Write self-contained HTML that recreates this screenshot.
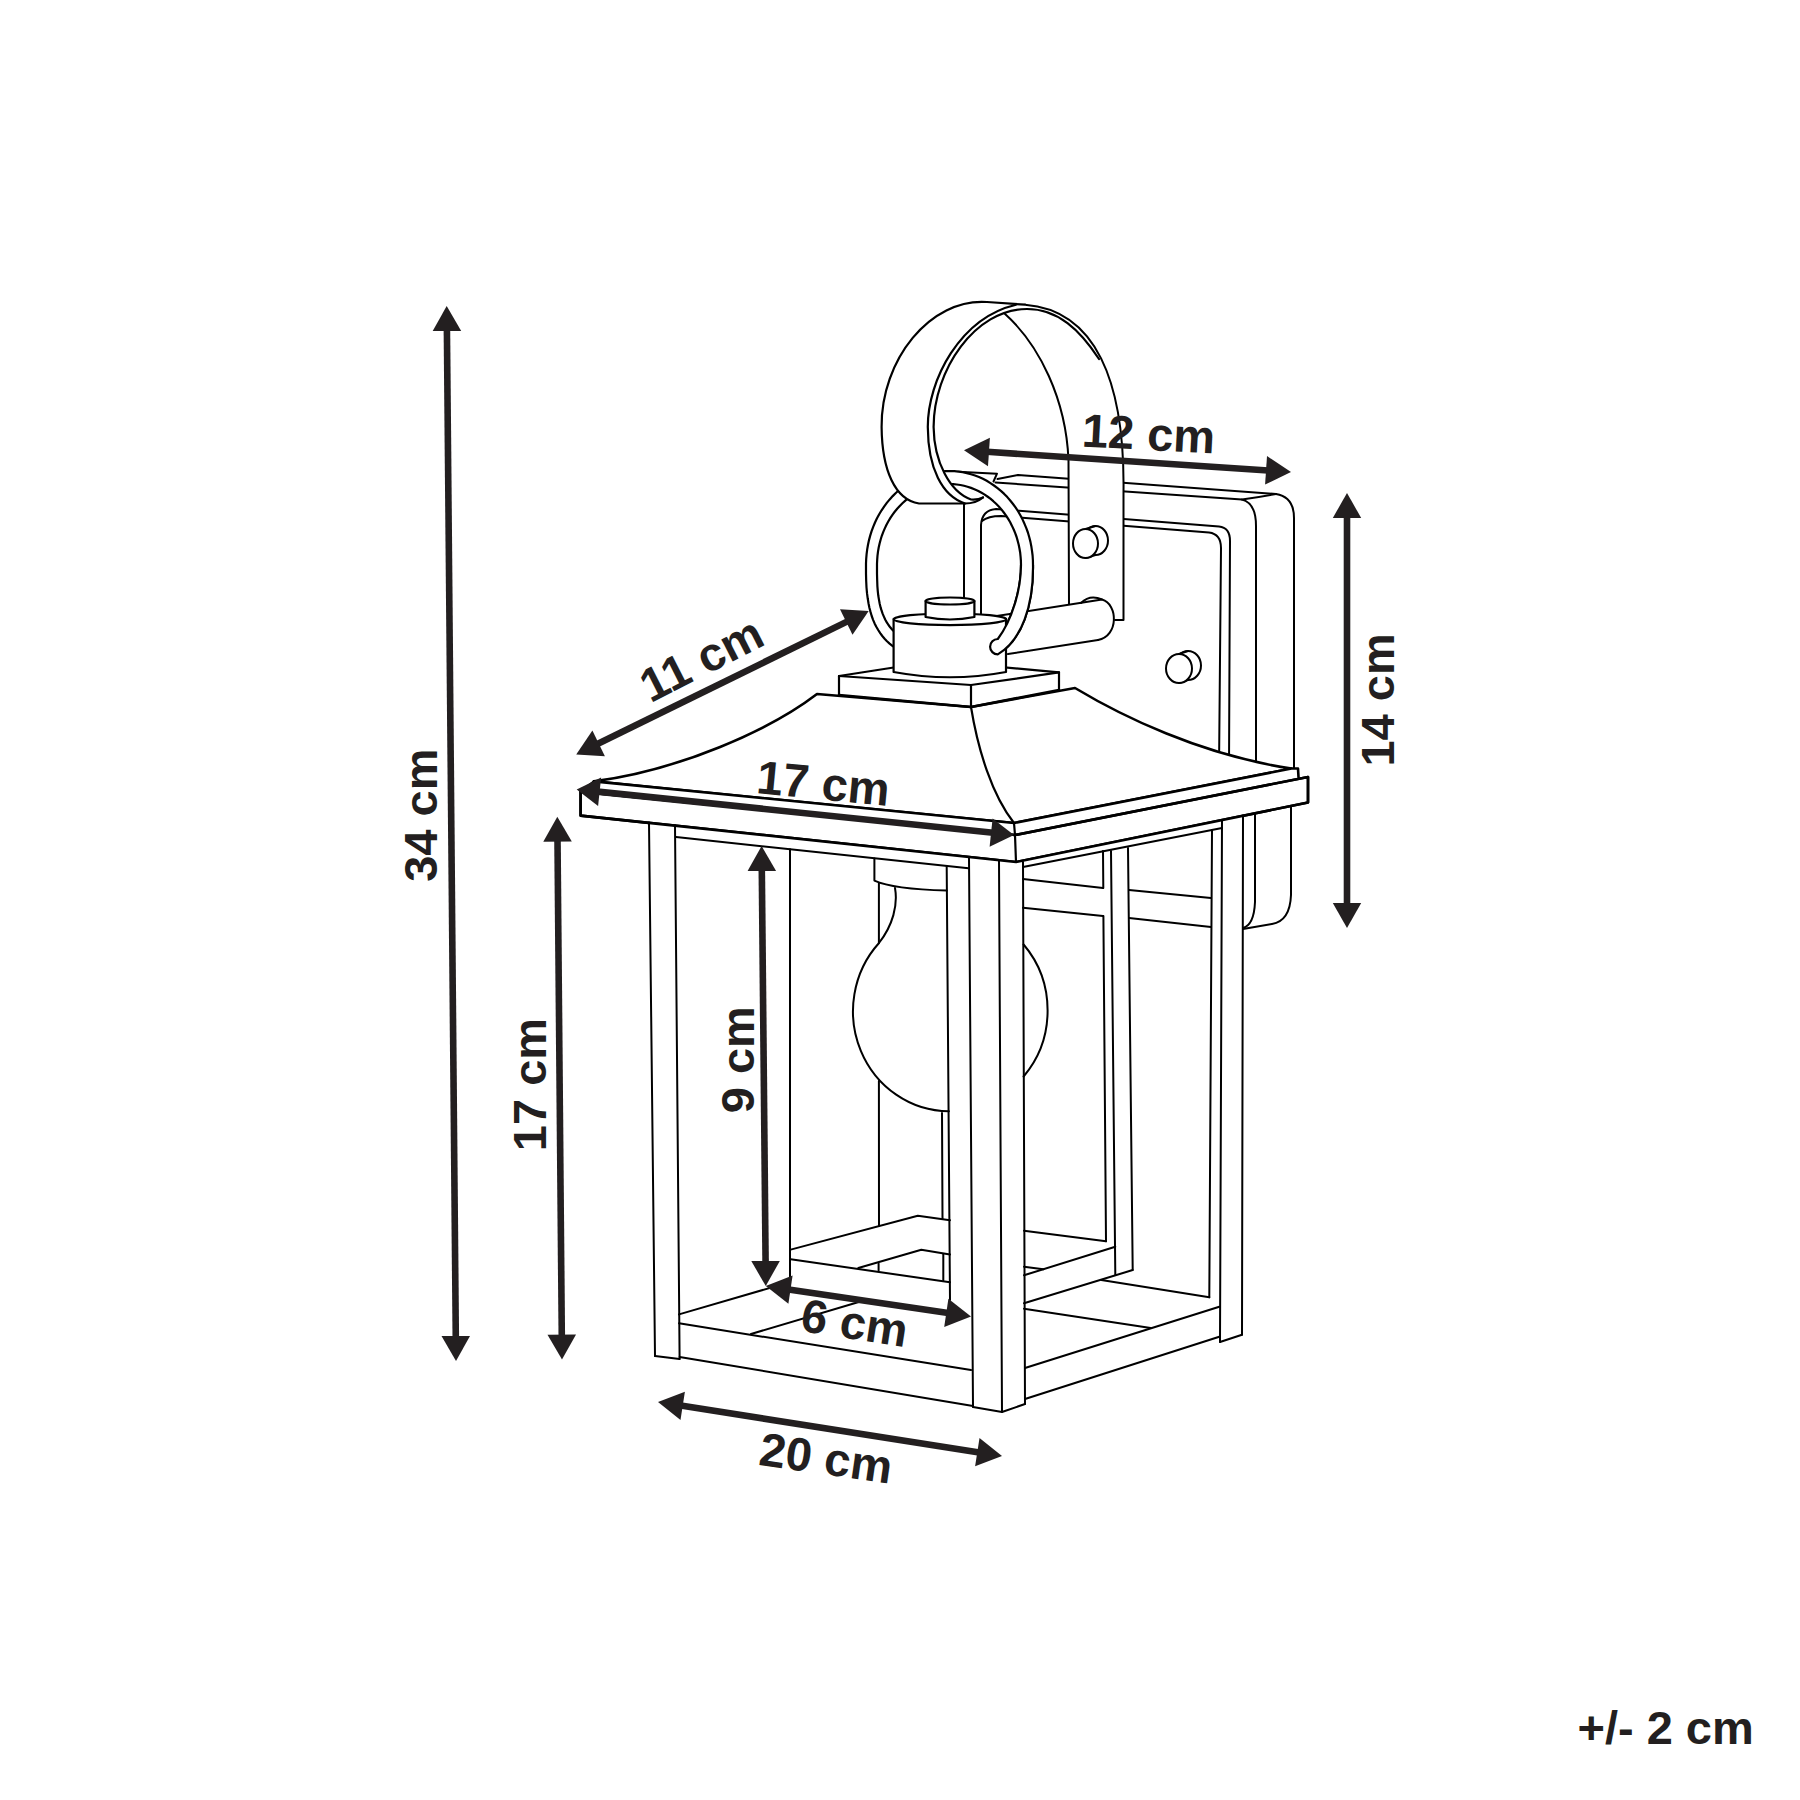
<!DOCTYPE html>
<html><head><meta charset="utf-8"><style>
html,body{margin:0;padding:0;background:#fff;}
svg{display:block;}
text{font-family:"Liberation Sans",sans-serif;font-weight:bold;fill:#231f20;}
</style></head><body>
<svg width="1800" height="1800" viewBox="0 0 1800 1800">
<rect width="1800" height="1800" fill="#fff"/>
<path d="M 958,471.8 L 997,473.7 L 993.5,481.5" fill="none" stroke="#000" stroke-width="2.0" stroke-linejoin="round" stroke-linecap="round"/>
<path d="M 997.5,479 L 1018,475 L 1276,494 Q 1294,497 1294,518 L 1294,770" fill="none" stroke="#000" stroke-width="2.0" stroke-linejoin="round" stroke-linecap="round"/>
<path d="M 995.5,482.5 L 1242,499.6 Q 1256,503 1256,526 L 1256,770" fill="none" stroke="#000" stroke-width="2.0" stroke-linejoin="round" stroke-linecap="round"/>
<path d="M 1242,499.6 Q 1260,497 1276,494" fill="none" stroke="#000" stroke-width="2.0" stroke-linejoin="round" stroke-linecap="round"/>
<path d="M 981,617 L 981,525 Q 982,510 996,509 L 1219,526.5 Q 1230,527.5 1230,541 L 1229,770" fill="none" stroke="#000" stroke-width="2.0" stroke-linejoin="round" stroke-linecap="round"/>
<path d="M 982,521 Q 988,516 1001,516 L 1209,532.5 Q 1221,534 1221,548 L 1219,770" fill="none" stroke="#000" stroke-width="2.0" stroke-linejoin="round" stroke-linecap="round"/>
<path d="M 964,503 L 964,614" fill="none" stroke="#000" stroke-width="2.0" stroke-linejoin="round" stroke-linecap="round"/>
<path d="M 1291,806 L 1291,895 Q 1290,921 1272,924 L 1243,929" fill="none" stroke="#000" stroke-width="2.0" stroke-linejoin="round" stroke-linecap="round"/>
<path d="M 1255,813 L 1255,902 Q 1254,925 1243,928" fill="none" stroke="#000" stroke-width="2.0" stroke-linejoin="round" stroke-linecap="round"/>
<ellipse cx="1188" cy="665.5" rx="13" ry="14.5" fill="#fff" stroke="#000" stroke-width="2"/>
<path d="M 1179,654 L 1188,651" fill="none" stroke="#000" stroke-width="2" stroke-linejoin="round" stroke-linecap="round"/>
<path d="M 1179,683 L 1188,680" fill="none" stroke="#000" stroke-width="2" stroke-linejoin="round" stroke-linecap="round"/>
<ellipse cx="1179" cy="668.5" rx="13" ry="14.5" fill="#fff" stroke="#000" stroke-width="2"/>
<path d="M 1004,313 C 1040,345 1066,400 1068.5,460 L 1069,620 L 1123.5,620 L 1123.5,492 C 1125,380 1095,310 1025,304.7 Z" fill="#fff" stroke="#000" stroke-width="0" stroke-linejoin="round" stroke-linecap="round"/>
<path d="M 1004,313 C 1040,345 1066,400 1068.5,460 L 1069,604" fill="none" stroke="#000" stroke-width="2.0" stroke-linejoin="round" stroke-linecap="round"/>
<path d="M 1025,304.7 C 1095,310 1125,380 1123.5,492 L 1123.5,620 L 1115,620" fill="none" stroke="#000" stroke-width="2.0" stroke-linejoin="round" stroke-linecap="round"/>
<ellipse cx="1095.5" cy="540.5" rx="12.5" ry="14.5" fill="#fff" stroke="#000" stroke-width="2"/>
<path d="M 1085.5,529 L 1095.5,526" fill="none" stroke="#000" stroke-width="2" stroke-linejoin="round" stroke-linecap="round"/>
<path d="M 1085.5,558 L 1095.5,555" fill="none" stroke="#000" stroke-width="2" stroke-linejoin="round" stroke-linecap="round"/>
<ellipse cx="1085.5" cy="543.5" rx="12.5" ry="14.5" fill="#fff" stroke="#000" stroke-width="2"/>
<path d="M 1000,616 L 1028,611 L 1102,599.5 C 1118,604 1119,636 1098,640 L 1008,654 Z" fill="#fff" stroke="#000" stroke-width="0" stroke-linejoin="round" stroke-linecap="round"/>
<path d="M 985,617.8 L 1102,599.5" fill="none" stroke="#000" stroke-width="2.0" stroke-linejoin="round" stroke-linecap="round"/>
<path d="M 1008,654 L 1098,640" fill="none" stroke="#000" stroke-width="2.0" stroke-linejoin="round" stroke-linecap="round"/>
<path d="M 1081,603 Q 1090,594 1102,599.5 C 1118,604 1119,636 1098,640" fill="none" stroke="#000" stroke-width="2.0" stroke-linejoin="round" stroke-linecap="round"/>
<path d="M 925.6,658.0 L 920.9,657.3 L 916.6,656.5 L 912.5,655.4 L 908.7,654.3 L 905.0,652.9 L 901.6,651.4 L 898.4,649.7 L 895.3,647.8 L 892.4,645.8 L 889.6,643.6 L 887.0,641.2 L 884.6,638.7 L 882.3,636.0 L 880.2,633.1 L 878.2,630.0 L 876.3,626.8 L 874.6,623.4 L 873.1,619.8 L 871.7,616.0 L 870.5,611.9 L 869.4,607.7 L 868.5,603.2 L 867.7,598.3 L 867.0,593.2 L 866.5,587.5 L 866.2,581.2 L 866.0,573.6 L 866.0,563.5 L 866.2,558.8 L 866.6,554.1 L 867.2,549.4 L 868.0,544.7 L 869.0,540.1 L 870.2,535.6 L 871.6,531.1 L 873.2,526.8 L 875.0,522.5 L 877.0,518.3 L 879.2,514.3 L 881.6,510.3 L 884.1,506.6 L 886.8,502.9 L 889.7,499.4 L 892.7,496.1 L 895.8,493.0 L 899.1,490.0 L 902.5,487.3 L 906.1,484.7 L 909.7,482.3 L 913.5,480.2 L 917.3,478.3 L 921.2,476.5 L 925.2,475.1 L 929.3,473.8 L 933.4,472.8 L 937.6,472.0 L 941.7,471.4 L 945.9,471.1 L 950.1,471.0 L 954.4,471.2 L 958.6,471.6 L 962.7,472.2 L 966.9,473.1 L 971.0,474.2 L 975.0,475.5 L 979.0,477.0 L 982.9,478.8 L 986.7,480.8 L 990.4,483.1 L 994.0,485.5 L 997.5,488.1 L 1000.9,490.9 L 1004.2,493.9 L 1007.3,497.1 L 1010.2,500.5 L 1013.0,504.0 L 1015.7,507.7 L 1018.2,511.5 L 1020.5,515.5 L 1022.6,519.6 L 1024.5,523.8 L 1026.3,528.1 L 1027.9,532.5 L 1029.2,537.0 L 1030.4,541.6 L 1031.3,546.2 L 1032.0,550.8 L 1032.6,555.5 L 1032.9,560.3 L 1033.0,565.0 C 1033.5,605 1022,640 997.8,654.4 A 7.7,7.7 0 0,1 997.8,639 C 1012,620 1021,590 1021,565 L 1021.0,565.0 L 1020.9,560.9 L 1020.6,556.8 L 1020.2,552.8 L 1019.5,548.8 L 1018.7,544.8 L 1017.7,540.9 L 1016.6,537.0 L 1015.2,533.2 L 1013.7,529.5 L 1012.0,525.9 L 1010.2,522.3 L 1008.2,518.9 L 1006.1,515.6 L 1003.8,512.5 L 1001.4,509.4 L 998.8,506.5 L 996.1,503.8 L 993.3,501.2 L 990.4,498.7 L 987.4,496.5 L 984.3,494.4 L 981.1,492.5 L 977.8,490.7 L 974.4,489.2 L 971.0,487.9 L 967.5,486.7 L 964.0,485.8 L 960.4,485.0 L 956.8,484.5 L 953.2,484.1 L 949.6,484.0 L 945.9,484.1 L 942.3,484.4 L 938.7,484.8 L 935.1,485.5 L 931.6,486.4 L 928.1,487.5 L 924.6,488.8 L 921.3,490.3 L 917.9,491.9 L 914.7,493.8 L 911.6,495.8 L 908.5,498.0 L 905.6,500.4 L 902.7,503.0 L 900.0,505.7 L 897.4,508.5 L 894.9,511.5 L 892.6,514.6 L 890.4,517.9 L 888.4,521.3 L 886.5,524.8 L 884.8,528.4 L 883.2,532.1 L 881.8,535.8 L 880.6,539.7 L 879.6,543.6 L 878.7,547.5 L 878.0,551.6 L 877.5,555.6 L 877.2,559.7 L 877.0,563.7 L 877.0,573.7 L 877.2,580.7 L 877.4,586.4 L 877.8,591.3 L 878.3,595.8 L 879.0,599.9 L 879.7,603.8 L 880.6,607.4 L 881.6,610.7 L 882.7,613.9 L 884.0,616.9 L 885.3,619.8 L 886.8,622.4 L 888.5,625.0 L 890.2,627.3 L 892.1,629.5 L 894.1,631.6 L 896.2,633.5 L 898.5,635.3 L 900.9,637.0 L 903.4,638.5 L 906.1,639.9 L 909.0,641.1 L 912.1,642.2 L 915.3,643.1 L 918.8,644.0 L 922.5,644.6 L 926.6,645.2 Z" fill="#fff" stroke="#000" stroke-width="0" stroke-linejoin="round" stroke-linecap="round"/>
<path d="M 925.6,658.0 L 920.9,657.3 L 916.6,656.5 L 912.5,655.4 L 908.7,654.3 L 905.0,652.9 L 901.6,651.4 L 898.4,649.7 L 895.3,647.8 L 892.4,645.8 L 889.6,643.6 L 887.0,641.2 L 884.6,638.7 L 882.3,636.0 L 880.2,633.1 L 878.2,630.0 L 876.3,626.8 L 874.6,623.4 L 873.1,619.8 L 871.7,616.0 L 870.5,611.9 L 869.4,607.7 L 868.5,603.2 L 867.7,598.3 L 867.0,593.2 L 866.5,587.5 L 866.2,581.2 L 866.0,573.6 L 866.0,563.5 L 866.2,558.8 L 866.6,554.1 L 867.2,549.4 L 868.0,544.7 L 869.0,540.1 L 870.2,535.6 L 871.6,531.1 L 873.2,526.8 L 875.0,522.5 L 877.0,518.3 L 879.2,514.3 L 881.6,510.3 L 884.1,506.6 L 886.8,502.9 L 889.7,499.4 L 892.7,496.1 L 895.8,493.0 L 899.1,490.0 L 902.5,487.3 L 906.1,484.7 L 909.7,482.3 L 913.5,480.2 L 917.3,478.3 L 921.2,476.5 L 925.2,475.1 L 929.3,473.8 L 933.4,472.8 L 937.6,472.0 L 941.7,471.4 L 945.9,471.1 L 950.1,471.0 L 954.4,471.2 L 958.6,471.6 L 962.7,472.2 L 966.9,473.1 L 971.0,474.2 L 975.0,475.5 L 979.0,477.0 L 982.9,478.8 L 986.7,480.8 L 990.4,483.1 L 994.0,485.5 L 997.5,488.1 L 1000.9,490.9 L 1004.2,493.9 L 1007.3,497.1 L 1010.2,500.5 L 1013.0,504.0 L 1015.7,507.7 L 1018.2,511.5 L 1020.5,515.5 L 1022.6,519.6 L 1024.5,523.8 L 1026.3,528.1 L 1027.9,532.5 L 1029.2,537.0 L 1030.4,541.6 L 1031.3,546.2 L 1032.0,550.8 L 1032.6,555.5 L 1032.9,560.3 L 1033.0,565.0 C 1033.5,605 1022,640 997.8,654.4" fill="none" stroke="#000" stroke-width="2.2" stroke-linejoin="round" stroke-linecap="round"/>
<path d="M 926.6,645.2 L 922.5,644.6 L 918.8,644.0 L 915.3,643.1 L 912.1,642.2 L 909.0,641.1 L 906.1,639.9 L 903.4,638.5 L 900.9,637.0 L 898.5,635.3 L 896.2,633.5 L 894.1,631.6 L 892.1,629.5 L 890.2,627.3 L 888.5,625.0 L 886.8,622.4 L 885.3,619.8 L 884.0,616.9 L 882.7,613.9 L 881.6,610.7 L 880.6,607.4 L 879.7,603.8 L 879.0,599.9 L 878.3,595.8 L 877.8,591.3 L 877.4,586.4 L 877.2,580.7 L 877.0,573.7 L 877.0,563.7 L 877.2,559.7 L 877.5,555.6 L 878.0,551.6 L 878.7,547.5 L 879.6,543.6 L 880.6,539.7 L 881.8,535.8 L 883.2,532.1 L 884.8,528.4 L 886.5,524.8 L 888.4,521.3 L 890.4,517.9 L 892.6,514.6 L 894.9,511.5 L 897.4,508.5 L 900.0,505.7 L 902.7,503.0 L 905.6,500.4 L 908.5,498.0 L 911.6,495.8 L 914.7,493.8 L 917.9,491.9 L 921.3,490.3 L 924.6,488.8 L 928.1,487.5 L 931.6,486.4 L 935.1,485.5 L 938.7,484.8 L 942.3,484.4 L 945.9,484.1 L 949.6,484.0 L 953.2,484.1 L 956.8,484.5 L 960.4,485.0 L 964.0,485.8 L 967.5,486.7 L 971.0,487.9 L 974.4,489.2 L 977.8,490.7 L 981.1,492.5 L 984.3,494.4 L 987.4,496.5 L 990.4,498.7 L 993.3,501.2 L 996.1,503.8 L 998.8,506.5 L 1001.4,509.4 L 1003.8,512.5 L 1006.1,515.6 L 1008.2,518.9 L 1010.2,522.3 L 1012.0,525.9 L 1013.7,529.5 L 1015.2,533.2 L 1016.6,537.0 L 1017.7,540.9 L 1018.7,544.8 L 1019.5,548.8 L 1020.2,552.8 L 1020.6,556.8 L 1020.9,560.9 L 1021.0,565.0 C 1021,590 1012,620 997.8,639" fill="none" stroke="#000" stroke-width="2.2" stroke-linejoin="round" stroke-linecap="round"/>
<path d="M 987,302 C 930,298 881,360 881.6,427 C 882,470 895,500 919,503.5 L 965,503.5 C 973,503.5 980,500 983,497.5 Q 978,500 971,499.5 C 950,492 934,462 933.6,427 C 933.6,370 975,309 1027,309 L 1025,304.7 Z" fill="#fff" stroke="#000" stroke-width="0" stroke-linejoin="round" stroke-linecap="round"/>
<path d="M 987,302 C 930,298 881,360 881.6,427 C 882,470 895,500 919,503.5 L 965,503.5 C 973,503.5 980,500 983,497.5" fill="none" stroke="#000" stroke-width="2.2" stroke-linejoin="round" stroke-linecap="round"/>
<path d="M 987,302 L 1025,304.7" fill="none" stroke="#000" stroke-width="2.2" stroke-linejoin="round" stroke-linecap="round"/>
<path d="M 1016,304.7 C 960,318 927.8,380 927.8,427 C 928,468 942,496 965,503.5" fill="none" stroke="#000" stroke-width="2.2" stroke-linejoin="round" stroke-linecap="round"/>
<path d="M 1099,359 C 1080,330 1058,309 1027,309 C 975,309 933.6,370 933.6,427 C 934,462 950,492 971,499.5 Q 978,500 983,497.5" fill="none" stroke="#000" stroke-width="2.2" stroke-linejoin="round" stroke-linecap="round"/>
<path d="M 839,676 L 935.5,661 L 1059,672.4 L 1059,690 L 971,707 L 839,695 Z" fill="#fff" stroke="#000" stroke-width="0" stroke-linejoin="round" stroke-linecap="round"/>
<path d="M 839,676 L 935.5,661 L 1059,672.4" fill="none" stroke="#000" stroke-width="2.2" stroke-linejoin="round" stroke-linecap="round"/>
<path d="M 839,676 L 971,685 L 1059,672.4 L 1059,690" fill="none" stroke="#000" stroke-width="2.2" stroke-linejoin="round" stroke-linecap="round"/>
<path d="M 971,685 L 971,707" fill="none" stroke="#000" stroke-width="2.2" stroke-linejoin="round" stroke-linecap="round"/>
<path d="M 839,676 L 839,695" fill="none" stroke="#000" stroke-width="2.2" stroke-linejoin="round" stroke-linecap="round"/>
<path d="M 893.6,619 L 893.6,672 Q 950,682.5 1006,672 L 1006,619 Z" fill="#fff" stroke="#000" stroke-width="0" stroke-linejoin="round" stroke-linecap="round"/>
<ellipse cx="950" cy="619.3" rx="56.2" ry="5.8" fill="#fff" stroke="#000" stroke-width="2.2"/>
<path d="M 893.6,619 L 893.6,672 Q 950,682.5 1006,672 L 1006,619" fill="none" stroke="#000" stroke-width="2.2" stroke-linejoin="round" stroke-linecap="round"/>
<path d="M 925.6,601 L 925.6,617 Q 950,622 974.4,617 L 974.4,601 Z" fill="#fff" stroke="#000" stroke-width="0" stroke-linejoin="round" stroke-linecap="round"/>
<ellipse cx="950" cy="601" rx="24.4" ry="3.5" fill="#fff" stroke="#000" stroke-width="2.2"/>
<path d="M 925.6,601 L 925.6,617 Q 950,622 974.4,617 L 974.4,601" fill="none" stroke="#000" stroke-width="2.2" stroke-linejoin="round" stroke-linecap="round"/>
<path d="M 1033,565 C 1033.5,605 1022,640 997.8,654.4 A 7.7,7.7 0 0,1 997.8,639 C 1012,620 1021,590 1021,565 Z" fill="#fff" stroke="#000" stroke-width="0" stroke-linejoin="round" stroke-linecap="round"/>
<path d="M 1033,565 C 1033.5,605 1022,640 997.8,654.4 A 7.7,7.7 0 0,1 997.8,639 C 1012,620 1021,590 1021,565" fill="none" stroke="#000" stroke-width="2.2" stroke-linejoin="round" stroke-linecap="round"/>
<path d="M 593.9,781.4 C 680,770 770,730 817,694 L 971,707 L 1075,688 C 1120,715 1200,755 1291.5,768.5 L 1014,823 Z" fill="#fff" stroke="#000" stroke-width="2.6" stroke-linejoin="round" stroke-linecap="round"/>
<path d="M 971,707 C 978,750 992,795 1014,823" fill="none" stroke="#000" stroke-width="2.2" stroke-linejoin="round" stroke-linecap="round"/>
<path d="M 839,695 L 971,707 L 1059,690" fill="none" stroke="#000" stroke-width="2.6" stroke-linejoin="round" stroke-linecap="round"/>
<path d="M 593.9,781.4 L 1014,823 L 1291.5,768.5 L 1298,768.5 L 1298.5,777 L 1308,777 L 1308,802.5 L 1016,862 L 580.6,815.6 L 580.6,791.7 Z" fill="#fff" stroke="#000" stroke-width="0" stroke-linejoin="round" stroke-linecap="round"/>
<path d="M 593.9,781.4 L 1014,823 L 1291.5,768.5 L 1298,768.5 L 1298.5,777" fill="none" stroke="#000" stroke-width="2.6" stroke-linejoin="round" stroke-linecap="round"/>
<path d="M 580.6,791.7 L 1015,835 L 1308,777 L 1308,802.5 L 1016,862 L 580.6,815.6 Z" fill="none" stroke="#000" stroke-width="2.6" stroke-linejoin="round" stroke-linecap="round"/>
<path d="M 1015,835 L 1016,862" fill="none" stroke="#000" stroke-width="2.2" stroke-linejoin="round" stroke-linecap="round"/>
<path d="M 1014,823 L 1015,835" fill="none" stroke="#000" stroke-width="2.2" stroke-linejoin="round" stroke-linecap="round"/>
<path d="M 593.9,781.4 L 580.6,791.7" fill="none" stroke="#000" stroke-width="2.2" stroke-linejoin="round" stroke-linecap="round"/>
<path d="M 649,822.5 L 1016,862 L 1243,816 L 1242,1335 L 1220,1342 L 1025,1404 L 1002,1412 L 973,1407 L 655,1356 Z" fill="#fff" stroke="#000" stroke-width="0" stroke-linejoin="round" stroke-linecap="round"/>
<path d="M 580.6,791.7 L 1015,835 L 1308,777 L 1308,802.5 L 1016,862 L 580.6,815.6 Z" fill="none" stroke="#000" stroke-width="2.6" stroke-linejoin="round" stroke-linecap="round"/>
<path d="M 649,822.5 L 655,1356" fill="none" stroke="#000" stroke-width="2.0" stroke-linejoin="round" stroke-linecap="round"/>
<path d="M 675,825.3 L 679.6,1359" fill="none" stroke="#000" stroke-width="2.0" stroke-linejoin="round" stroke-linecap="round"/>
<path d="M 655,1356 L 679.6,1359" fill="none" stroke="#000" stroke-width="2.0" stroke-linejoin="round" stroke-linecap="round"/>
<path d="M 676,837 L 968.5,868.3" fill="none" stroke="#000" stroke-width="2.0" stroke-linejoin="round" stroke-linecap="round"/>
<path d="M 790,849.2 L 790,1288" fill="none" stroke="#000" stroke-width="2.0" stroke-linejoin="round" stroke-linecap="round"/>
<path d="M 874.4,858.5 L 874.4,880.6 Q 893,889 946.7,890.6" fill="none" stroke="#000" stroke-width="2.0" stroke-linejoin="round" stroke-linecap="round"/>
<path d="M 946.7,866.5 L 950,1300" fill="none" stroke="#000" stroke-width="2.0" stroke-linejoin="round" stroke-linecap="round"/>
<path d="M 878.9,883 L 878.9,943" fill="none" stroke="#000" stroke-width="2.0" stroke-linejoin="round" stroke-linecap="round"/>
<path d="M 895,888 C 898,905 893,925 879,943 A 96.5,100 0 0,0 948.9,1111.3" fill="none" stroke="#000" stroke-width="2.0" stroke-linejoin="round" stroke-linecap="round"/>
<path d="M 878.9,1081 L 879,1226" fill="none" stroke="#000" stroke-width="2.0" stroke-linejoin="round" stroke-linecap="round"/>
<path d="M 878.6,1263.8 L 878.6,1270.6" fill="none" stroke="#000" stroke-width="2.0" stroke-linejoin="round" stroke-linecap="round"/>
<path d="M 942,1113 L 942.5,1218.8" fill="none" stroke="#000" stroke-width="2.0" stroke-linejoin="round" stroke-linecap="round"/>
<path d="M 943.3,1254.4 L 943.3,1280.3" fill="none" stroke="#000" stroke-width="2.0" stroke-linejoin="round" stroke-linecap="round"/>
<path d="M 969,857.8 L 973,1407" fill="none" stroke="#000" stroke-width="2.0" stroke-linejoin="round" stroke-linecap="round"/>
<path d="M 999,861 L 1002,1412" fill="none" stroke="#000" stroke-width="2.0" stroke-linejoin="round" stroke-linecap="round"/>
<path d="M 1023,862 L 1025,1404" fill="none" stroke="#000" stroke-width="2.0" stroke-linejoin="round" stroke-linecap="round"/>
<path d="M 973,1407 L 1002,1412 L 1025,1404" fill="none" stroke="#000" stroke-width="2.0" stroke-linejoin="round" stroke-linecap="round"/>
<path d="M 679,1323.3 L 971,1370" fill="none" stroke="#000" stroke-width="2.0" stroke-linejoin="round" stroke-linecap="round"/>
<path d="M 679.6,1357 L 973,1406" fill="none" stroke="#000" stroke-width="2.0" stroke-linejoin="round" stroke-linecap="round"/>
<path d="M 679,1314.4 L 790,1282" fill="none" stroke="#000" stroke-width="2.0" stroke-linejoin="round" stroke-linecap="round"/>
<path d="M 751,1334 L 868,1299.3" fill="none" stroke="#000" stroke-width="2.0" stroke-linejoin="round" stroke-linecap="round"/>
<path d="M 790.7,1249.6 L 917.8,1215.8 L 950,1220.2" fill="none" stroke="#000" stroke-width="2.0" stroke-linejoin="round" stroke-linecap="round"/>
<path d="M 790.7,1259.3 L 950,1282.2" fill="none" stroke="#000" stroke-width="2.0" stroke-linejoin="round" stroke-linecap="round"/>
<path d="M 858.3,1268 L 921.3,1249.8 L 950,1254.4" fill="none" stroke="#000" stroke-width="2.0" stroke-linejoin="round" stroke-linecap="round"/>
<path d="M 1023,867 L 1222,828" fill="none" stroke="#000" stroke-width="2.0" stroke-linejoin="round" stroke-linecap="round"/>
<path d="M 1023,879 L 1103,888" fill="none" stroke="#000" stroke-width="2.0" stroke-linejoin="round" stroke-linecap="round"/>
<path d="M 1023,907.8 L 1103,916" fill="none" stroke="#000" stroke-width="2.0" stroke-linejoin="round" stroke-linecap="round"/>
<path d="M 1129,890 L 1211,898" fill="none" stroke="#000" stroke-width="2.0" stroke-linejoin="round" stroke-linecap="round"/>
<path d="M 1129,918 L 1211,927" fill="none" stroke="#000" stroke-width="2.0" stroke-linejoin="round" stroke-linecap="round"/>
<path d="M 1103,851 L 1103.3,888" fill="none" stroke="#000" stroke-width="2.0" stroke-linejoin="round" stroke-linecap="round"/>
<path d="M 1103.4,916 L 1106,1241.3" fill="none" stroke="#000" stroke-width="2.0" stroke-linejoin="round" stroke-linecap="round"/>
<path d="M 1111,851 L 1115.3,1274.7" fill="none" stroke="#000" stroke-width="2.0" stroke-linejoin="round" stroke-linecap="round"/>
<path d="M 1128,848 L 1132.7,1270" fill="none" stroke="#000" stroke-width="2.0" stroke-linejoin="round" stroke-linecap="round"/>
<path d="M 1024,1230.7 L 1106,1241.3" fill="none" stroke="#000" stroke-width="2.0" stroke-linejoin="round" stroke-linecap="round"/>
<path d="M 1024,1275.3 L 1115.3,1246.7" fill="none" stroke="#000" stroke-width="2.0" stroke-linejoin="round" stroke-linecap="round"/>
<path d="M 1024,1303.3 L 1132.7,1270" fill="none" stroke="#000" stroke-width="2.0" stroke-linejoin="round" stroke-linecap="round"/>
<path d="M 1024,1266.7 L 1043.3,1269.3" fill="none" stroke="#000" stroke-width="2.0" stroke-linejoin="round" stroke-linecap="round"/>
<path d="M 1101.3,1280 L 1209.3,1297.3" fill="none" stroke="#000" stroke-width="2.0" stroke-linejoin="round" stroke-linecap="round"/>
<path d="M 1212,830 L 1209.3,1297.3" fill="none" stroke="#000" stroke-width="2.0" stroke-linejoin="round" stroke-linecap="round"/>
<path d="M 1024,1308.7 L 1150.7,1328" fill="none" stroke="#000" stroke-width="2.0" stroke-linejoin="round" stroke-linecap="round"/>
<path d="M 1025,1368 L 1219.3,1306.7" fill="none" stroke="#000" stroke-width="2.0" stroke-linejoin="round" stroke-linecap="round"/>
<path d="M 1025,1399 L 1219.3,1336.7" fill="none" stroke="#000" stroke-width="2.0" stroke-linejoin="round" stroke-linecap="round"/>
<path d="M 1222,820 L 1220,1342" fill="none" stroke="#000" stroke-width="2.0" stroke-linejoin="round" stroke-linecap="round"/>
<path d="M 1243,815.5 L 1242,1334.7" fill="none" stroke="#000" stroke-width="2.0" stroke-linejoin="round" stroke-linecap="round"/>
<path d="M 1220,1342 L 1242,1334.7" fill="none" stroke="#000" stroke-width="2.0" stroke-linejoin="round" stroke-linecap="round"/>
<path d="M 1023.6,944.5 A 96.5,100 0 0,1 1023.6,1076.5" fill="none" stroke="#000" stroke-width="2.0" stroke-linejoin="round" stroke-linecap="round"/>
<line x1="446.9" y1="329.0" x2="455.8" y2="1338.0" stroke="#231f20" stroke-width="6.6"/>
<polygon fill="#231f20" points="446.7,306.0 432.7,331.1 461.2,330.9"/>
<polygon fill="#231f20" points="456.0,1361.0 441.5,1336.1 470.0,1335.9"/>
<line x1="557.5" y1="839.7" x2="561.8" y2="1336.6" stroke="#231f20" stroke-width="6.6"/>
<polygon fill="#231f20" points="557.3,816.7 543.3,841.8 571.8,841.6"/>
<polygon fill="#231f20" points="562.0,1359.6 547.5,1334.7 576.0,1334.5"/>
<line x1="761.8" y1="869.0" x2="765.6" y2="1263.0" stroke="#231f20" stroke-width="6.6"/>
<polygon fill="#231f20" points="761.6,846.0 747.6,871.1 776.1,870.9"/>
<polygon fill="#231f20" points="765.8,1286.0 751.3,1261.1 779.8,1260.9"/>
<line x1="1347.0" y1="516.0" x2="1347.0" y2="905.0" stroke="#231f20" stroke-width="6.6"/>
<polygon fill="#231f20" points="1347.0,493.0 1332.8,518.0 1361.2,518.0"/>
<polygon fill="#231f20" points="1347.0,928.0 1332.8,903.0 1361.2,903.0"/>
<line x1="986.9" y1="451.8" x2="1268.1" y2="470.5" stroke="#231f20" stroke-width="6.6"/>
<polygon fill="#231f20" points="964.0,450.3 988.0,466.2 989.9,437.7"/>
<polygon fill="#231f20" points="1291.0,472.0 1265.1,484.6 1267.0,456.1"/>
<line x1="596.9" y1="744.3" x2="848.0" y2="621.1" stroke="#231f20" stroke-width="6.6"/>
<polygon fill="#231f20" points="576.2,754.4 604.9,756.2 592.4,730.6"/>
<polygon fill="#231f20" points="868.7,611.0 852.5,634.8 840.0,609.2"/>
<line x1="597.6" y1="791.6" x2="993.1" y2="832.8" stroke="#231f20" stroke-width="6.6"/>
<polygon fill="#231f20" points="576.7,789.4 598.1,806.0 601.1,777.6"/>
<polygon fill="#231f20" points="1014.0,835.0 989.6,846.8 992.6,818.4"/>
<line x1="788.6" y1="1289.4" x2="948.2" y2="1313.1" stroke="#231f20" stroke-width="6.6"/>
<polygon fill="#231f20" points="765.8,1286.0 788.4,1303.8 792.6,1275.6"/>
<polygon fill="#231f20" points="971.0,1316.5 944.2,1326.9 948.4,1298.7"/>
<line x1="680.7" y1="1405.6" x2="979.3" y2="1452.4" stroke="#231f20" stroke-width="6.6"/>
<polygon fill="#231f20" points="658.0,1402.0 680.5,1420.0 684.9,1391.8"/>
<polygon fill="#231f20" points="1002.0,1456.0 975.1,1466.2 979.5,1438.0"/>
<text x="0" y="0" transform="translate(437,815.2) rotate(-90)" text-anchor="middle" font-size="47">34 cm</text>
<text x="0" y="0" transform="translate(546,1084.5) rotate(-90)" text-anchor="middle" font-size="47">17 cm</text>
<text x="0" y="0" transform="translate(753.5,1059.7) rotate(-90)" text-anchor="middle" font-size="47">9 cm</text>
<text x="0" y="0" transform="translate(1394,699.9) rotate(-90)" text-anchor="middle" font-size="47">14 cm</text>
<text x="0" y="0" transform="translate(1147.8,450) rotate(3.1)" text-anchor="middle" font-size="47">12 cm</text>
<text x="0" y="0" transform="translate(708.7,673.6) rotate(-27)" text-anchor="middle" font-size="47">11 cm</text>
<text x="0" y="0" transform="translate(821.8,799.5) rotate(5.5)" text-anchor="middle" font-size="47">17 cm</text>
<text x="0" y="0" transform="translate(852.2,1339) rotate(8.9)" text-anchor="middle" font-size="47">6 cm</text>
<text x="0" y="0" transform="translate(823.8,1474.2) rotate(8.2)" text-anchor="middle" font-size="47">20 cm</text>
<text x="0" y="0" transform="translate(1665.6,1744) rotate(0)" text-anchor="middle" font-size="47">+/- 2 cm</text>
</svg>
</body></html>
